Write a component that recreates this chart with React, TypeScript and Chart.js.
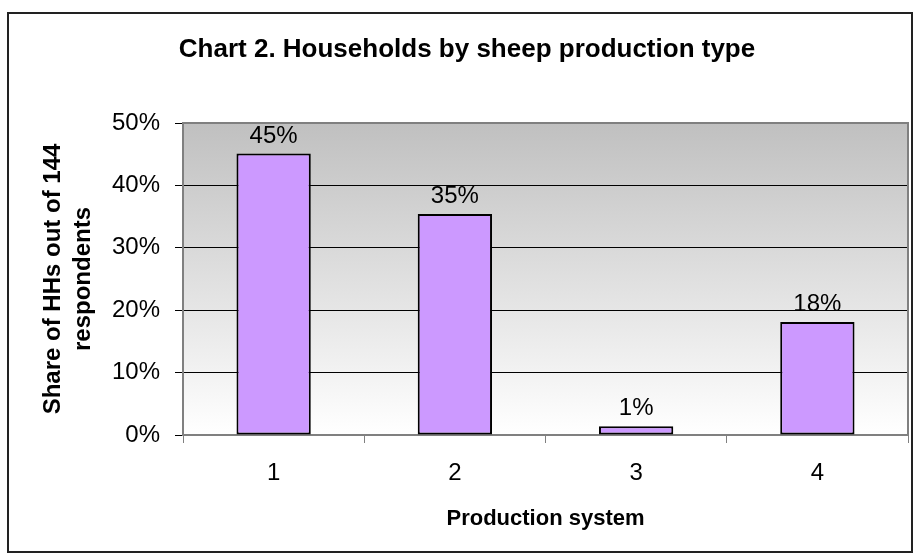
import React, { useEffect, useRef } from "react";
import { Chart, registerables } from "chart.js";

Chart.register(...registerables);

const categories = ["1", "2", "3", "4"];
const shares = [45.1, 35.4, 1.4, 18.1];
const yMin = 0;
const yMax = 50;
const yStep = 10;
const chartTitle = "Chart 2. Households by sheep production type";
const yTitleLines = ["Share of HHs out of 144", "respondents"];
const xTitle = "Production system";

const FONT = '"Liberation Sans", Arial, Helvetica, sans-serif';

const decor = {
  id: "decor",
  beforeDraw(chart: any) {
    const { ctx, chartArea: a } = chart;
    ctx.save();
    ctx.fillStyle = "#ffffff";
    ctx.fillRect(0, 0, chart.width, chart.height);
    const g = ctx.createLinearGradient(0, a.top, 0, a.bottom);
    g.addColorStop(0, "#c0c0c0");
    g.addColorStop(1, "#ffffff");
    ctx.fillStyle = g;
    ctx.fillRect(a.left, a.top, a.right - a.left, a.bottom - a.top);
    ctx.restore();
  },
  afterDraw(chart: any) {
    const { ctx, chartArea: a } = chart;
    ctx.save();
    // plot area border (top & right)
    ctx.strokeStyle = "#808080";
    ctx.lineWidth = 2;
    ctx.beginPath();
    ctx.moveTo(a.left, a.top);
    ctx.lineTo(a.right, a.top);
    ctx.lineTo(a.right, a.bottom);
    ctx.stroke();

    // data labels
    const meta = chart.getDatasetMeta(0);
    ctx.fillStyle = "#000";
    ctx.textAlign = "center";
    ctx.textBaseline = "alphabetic";
    ctx.font = `24px ${FONT}`;
    meta.data.forEach((bar: any, i: number) => {
      ctx.fillText(Math.round(shares[i]) + "%", bar.x, bar.y - 11);
    });

    // chart title
    ctx.font = `bold 26px ${FONT}`;
    ctx.fillText(chartTitle, 467, 57);

    // x title
    ctx.font = `bold 22px ${FONT}`;
    ctx.fillText(xTitle, (a.left + a.right) / 2, 525);

    // y title
    ctx.save();
    ctx.font = `bold 24px ${FONT}`;
    ctx.translate(0, (a.top + a.bottom) / 2);
    ctx.rotate(-Math.PI / 2);
    yTitleLines.forEach((line, i) => ctx.fillText(line, 0, 60 + i * 30));
    ctx.restore();

    // outer border
    ctx.strokeStyle = "#222";
    ctx.lineWidth = 2;
    ctx.strokeRect(8, 13, 904, 539);
    ctx.restore();
  },
};

export default function App() {
  const ref = useRef<HTMLCanvasElement>(null);
  useEffect(() => {
    document.body.style.margin = "0";
    const chart = new Chart(ref.current as HTMLCanvasElement, {
      type: "bar",
      data: {
        labels: categories,
        datasets: [
          {
            data: shares,
            backgroundColor: "#cc99ff",
            borderColor: "#000000",
            borderWidth: 2,
            borderSkipped: false,
            categoryPercentage: 1,
            barPercentage: 0.41,
          },
        ],
      },
      options: {
        responsive: false,
        animation: false,
        devicePixelRatio: 1,
        layout: { padding: { left: 0, right: 5, top: 123, bottom: 0 } },
        plugins: {
          legend: { display: false },
          title: { display: false },
          tooltip: { enabled: false },
        },
        scales: {
          x: {
            offset: true,
            afterFit: (s: any) => {
              s.height = 118;
            },
            grid: {
              offset: true,
              drawOnChartArea: false,
              drawTicks: true,
              tickLength: 8,
              tickColor: "#808080",
              tickWidth: 1,
            },
            border: { display: true, color: "#808080", width: 2 },
            ticks: {
              color: "#000",
              font: { family: FONT, size: 24 },
              padding: 16,
              maxRotation: 0,
            },
          },
          y: {
            min: yMin,
            max: yMax,
            afterFit: (s: any) => {
              s.width = 183;
            },
            grid: {
              color: (c: any) =>
                c.tick && (c.tick.value === yMin || c.tick.value === yMax) ? "rgba(0,0,0,0)" : "#000000",
              lineWidth: 1,
              drawTicks: true,
              tickLength: 8,
              tickColor: "#000000",
            },
            border: { display: true, color: "#808080", width: 2 },
            ticks: {
              stepSize: yStep,
              color: "#000",
              font: { family: FONT, size: 24 },
              padding: 15,
              callback: (v: any) => v + "%",
            },
          },
        },
      },
      plugins: [decor],
    });
    return () => chart.destroy();
  }, []);
  return (
    <div style={{ position: "absolute", left: 0, top: 0, width: 913, height: 553 }}>
      <canvas ref={ref} width={913} height={553} />
    </div>
  );
}
